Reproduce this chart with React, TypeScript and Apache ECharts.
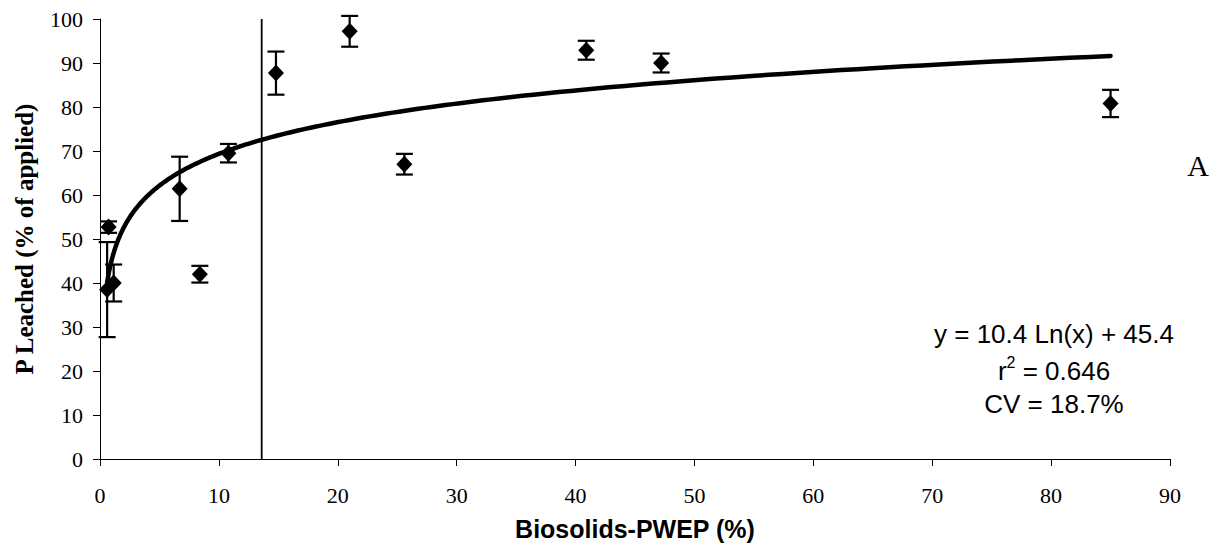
import React, { useEffect, useRef } from "react";
import * as echarts from "echarts";

// Biosolids water-extractable P (%) vs. P leached (% of applied)
const pwep = [0.6, 0.72, 1.15, 6.7, 8.4, 10.8, 14.8, 21.0, 25.6, 40.9, 47.2, 85.0];
const leached = [38.5, 52.7, 40.0, 61.4, 42.0, 69.5, 87.7, 97.2, 67.0, 92.9, 90.0, 80.8];
const errHalf = [10.8, 1.3, 4.2, 7.3, 1.9, 2.1, 4.9, 3.5, 2.35, 2.15, 2.15, 3.1];

// Logarithmic fit y = a ln(x) + b, drawn over the observed x range
const fitSlope = 10.4;
const fitIntercept = 45.4;
const fitXStart = 0.6;
const fitXEnd = 85;

// Change-point marker on the x axis
const changePointX = 13.6;

const xTicks = { min: 0, max: 90, step: 10 };
const yTicks = { min: 0, max: 100, step: 10 };

const eqLine1 = "y = 10.4 Ln(x) + 45.4";
const eqLine2 = "{b|r}{s|2}{b| = 0.646}";
const eqLine3 = "CV = 18.7%";
const panelLetter = "A";

const serif = "'Times New Roman', 'Liberation Serif', serif";
const sans = "Arial, 'Liberation Sans', sans-serif";

export default function App() {
  const ref = useRef<HTMLDivElement>(null);

  useEffect(() => {
    if (!ref.current) return;
    const chart = echarts.init(ref.current, null, { renderer: "svg" });

    const points = pwep.map((x, i) => [x, leached[i]]);
    const bars = pwep.map((x, i) => [x, leached[i] - errHalf[i], leached[i] + errHalf[i]]);

    const fit: number[][] = [];
    const n = 240;
    const l0 = Math.log(fitXStart);
    const l1 = Math.log(fitXEnd);
    for (let i = 0; i <= n; i++) {
      const x = Math.exp(l0 + ((l1 - l0) * i) / n);
      fit.push([x, fitSlope * Math.log(x) + fitIntercept]);
    }

    const eqFont = 26;

    chart.setOption({
      animation: false,
      backgroundColor: "#fff",
      grid: { left: 100, right: 50, top: 19, bottom: 100, containLabel: false },
      xAxis: {
        type: "value",
        min: xTicks.min,
        max: xTicks.max,
        interval: xTicks.step,
        name: "Biosolids-PWEP (%)",
        nameLocation: "middle",
        nameGap: 57,
        nameTextStyle: { fontFamily: sans, fontWeight: "bold", fontSize: 25, color: "#000" },
        axisLine: { show: true, lineStyle: { color: "#000", width: 1 } },
        axisTick: { show: true, inside: false, length: 7, lineStyle: { color: "#000", width: 1 } },
        axisLabel: { color: "#000", fontFamily: serif, fontSize: 22, margin: 25 },
        splitLine: { show: false },
      },
      yAxis: {
        type: "value",
        min: yTicks.min,
        max: yTicks.max,
        interval: yTicks.step,
        name: "P Leached (% of applied)",
        nameLocation: "middle",
        nameGap: 63,
        nameTextStyle: { fontFamily: serif, fontWeight: "bold", fontSize: 25, color: "#000" },
        axisLine: { show: true, lineStyle: { color: "#000", width: 1 } },
        axisTick: { show: true, inside: false, length: 7, lineStyle: { color: "#000", width: 1 } },
        axisLabel: { color: "#000", fontFamily: serif, fontSize: 22, margin: 17 },
        splitLine: { show: false },
      },
      series: [
        {
          type: "line",
          data: [
            [changePointX, yTicks.min],
            [changePointX, yTicks.max],
          ],
          symbol: "none",
          lineStyle: { color: "#000", width: 1.8 },
          z: 1,
        },
        {
          type: "custom",
          data: bars,
          z: 2,
          renderItem: (_p: any, api: any) => {
            const x = api.value(0);
            const lo = api.coord([x, api.value(1)]);
            const hi = api.coord([x, api.value(2)]);
            const cap = 8.5;
            const style = { stroke: "#000", lineWidth: 2.2 };
            return {
              type: "group",
              children: [
                { type: "line", shape: { x1: lo[0], y1: lo[1], x2: hi[0], y2: hi[1] }, style },
                { type: "line", shape: { x1: lo[0] - cap, y1: lo[1], x2: lo[0] + cap, y2: lo[1] }, style },
                { type: "line", shape: { x1: hi[0] - cap, y1: hi[1], x2: hi[0] + cap, y2: hi[1] }, style },
              ],
            };
          },
        },
        {
          type: "line",
          data: fit,
          symbol: "none",
          smooth: false,
          lineStyle: { color: "#000", width: 4.5, cap: "round" },
          z: 3,
        },
        {
          type: "scatter",
          data: points,
          symbol: "diamond",
          symbolSize: [16, 17],
          itemStyle: { color: "#000", opacity: 1 },
          z: 4,
        },
      ],
      graphic: [
        {
          type: "text",
          x: 1054,
          y: 334,
          style: { text: eqLine1, fontFamily: sans, fontSize: eqFont, fill: "#000", align: "center", verticalAlign: "middle" },
        },
        {
          type: "text",
          x: 1054,
          y: 369,
          style: {
            text: eqLine2,
            fontFamily: sans,
            fontSize: eqFont,
            fill: "#000",
            align: "center",
            verticalAlign: "middle",
            rich: {
              b: { fontFamily: sans, fontSize: eqFont, fill: "#000", lineHeight: 29, verticalAlign: "bottom" },
              s: { fontFamily: sans, fontSize: 16, fill: "#000", lineHeight: 29, verticalAlign: "top" },
            },
          },
        },
        {
          type: "text",
          x: 1054,
          y: 404,
          style: { text: eqLine3, fontFamily: sans, fontSize: eqFont, fill: "#000", align: "center", verticalAlign: "middle" },
        },
        {
          type: "text",
          x: 1198,
          y: 165,
          style: { text: panelLetter, fontFamily: serif, fontSize: 30, fill: "#000", align: "center", verticalAlign: "middle" },
        },
      ],
    });

    return () => chart.dispose();
  }, []);

  return (
    <div
      ref={ref}
      style={{ position: "fixed", left: 0, top: 0, width: 1220, height: 559, background: "#fff" }}
    />
  );
}
